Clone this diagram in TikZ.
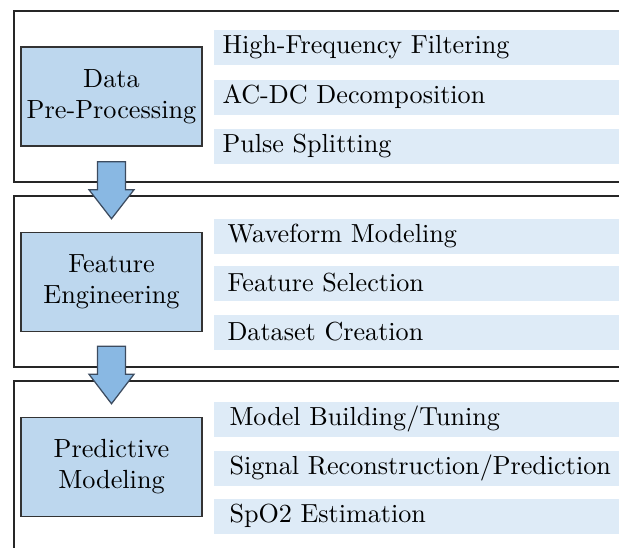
\documentclass[tikz,border=0pt]{standalone}
\usetikzlibrary{calc}
\definecolor{boxblue}{RGB}{189,215,238}
\definecolor{stripblue}{RGB}{222,235,247}
\definecolor{arrowblue}{RGB}{137,184,227}
\definecolor{arrowline}{RGB}{60,75,95}
\begin{document}
\begin{tikzpicture}[x=0.4pt,y=-0.4pt,
  frame/.style={draw=black!85, line width=0.8pt},
  stagebox/.style={draw=black!80, fill=boxblue, line width=0.6pt,
    minimum width=72.4pt, minimum height=39.6pt, align=center, inner sep=0pt,
    font=\fontsize{10.5}{12.4}\selectfont},
  strip/.style={fill=stripblue, anchor=north west, minimum height=14pt,
    text width=170pt, align=left, inner ysep=0pt,
    font=\fontsize{10.45}{12}\selectfont},
  flowarrow/.style={draw=arrowline, fill=arrowblue, line width=0.5pt, line join=miter}
]
\useasboundingbox (0,0) rectangle (619,547);
\clip (0,0) rectangle (619,547);

% frames
\draw[frame] (700,11) -- (14,11) -- (14,182) -- (700,182);
\draw[frame] (700,196) -- (14,196) -- (14,367) -- (700,367);
\draw[frame] (700,381) -- (14,381) -- (14,600);

% stage boxes
\node[stagebox] (b1) at (111.5,96.5) {Data\\Pre-Processing};
\node[stagebox] (b2) at (111.5,282) {Feature\\Engineering};
\node[stagebox] (b3) at (111.5,467) {Predictive\\Modeling};

% strips group 1
\node[strip, inner xsep=3.6pt] (s11) at (213,29) {High-Frequency Filtering};
\node[strip, inner xsep=3.6pt] (s12) at (213,79) {AC-DC Decomposition};
\node[strip, inner xsep=3.6pt] (s13) at (213,128) {Pulse Splitting};
% strips group 2
\node[strip, inner xsep=5.6pt] (s21) at (213,218) {Waveform Modeling};
\node[strip, inner xsep=5.6pt] (s22) at (213,265) {Feature Selection};
\node[strip, inner xsep=5.6pt] (s23) at (213,314) {Dataset Creation};
% strips group 3
\node[strip, inner xsep=6.4pt] (s31) at (213,401) {Model Building/Tuning};
\node[strip, inner xsep=6.4pt] (s32) at (213,450) {Signal Reconstruction/Prediction};
\node[strip, inner xsep=6.4pt] (s33) at (213,498) {SpO2 Estimation};

% block arrows
\coordinate (a1) at ($(b1.south)+(0,15)$);
\coordinate (a2) at ($(b2.north)+(0,-13)$);
\draw[flowarrow] ($(a1)+(-14,0)$) -- ($(a1)+(14,0)$) -- ($(a1)+(14,28)$) -- ($(a1)+(22.5,28)$)
  -- (a2) -- ($(a1)+(-22.5,28)$) -- ($(a1)+(-14,28)$) -- cycle;
\coordinate (c1) at ($(b2.south)+(0,14)$);
\coordinate (c2) at ($(b3.north)+(0,-13)$);
\draw[flowarrow] ($(c1)+(-14,0)$) -- ($(c1)+(14,0)$) -- ($(c1)+(14,28)$) -- ($(c1)+(22.5,28)$)
  -- (c2) -- ($(c1)+(-22.5,28)$) -- ($(c1)+(-14,28)$) -- cycle;
\end{tikzpicture}
\end{document}
